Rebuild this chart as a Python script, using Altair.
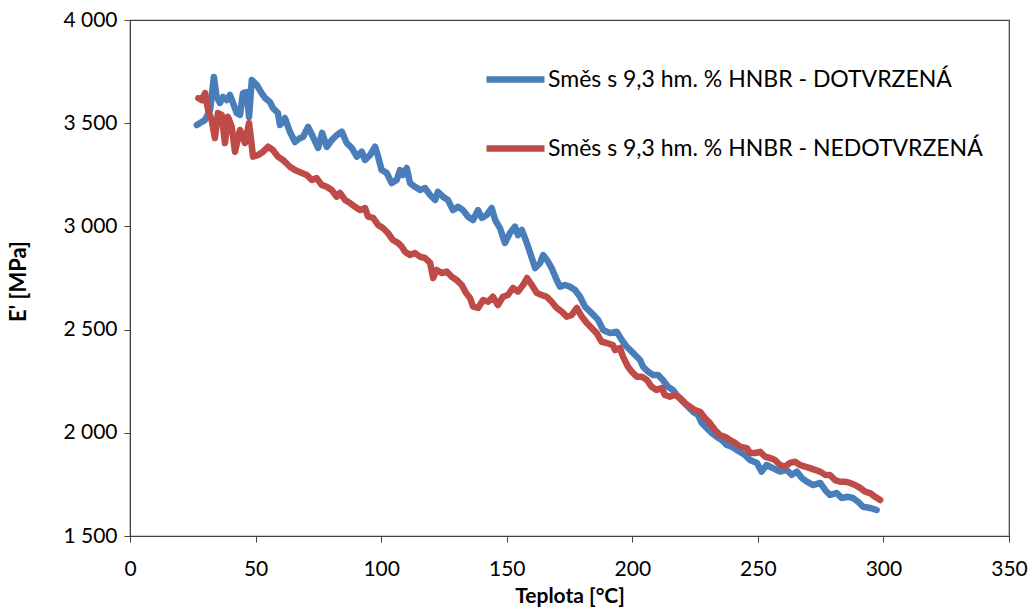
import altair as alt
import pandas as pd

SERIES = ["Směs s 9,3 hm. % HNBR - DOTVRZENÁ", "Směs s 9,3 hm. % HNBR - NEDOTVRZENÁ"]
COLORS = ["#4A7EBB", "#BE4B48"]

blue_T = [26.6, 29.9, 31.9, 33.4, 34.5, 35.8, 37.0, 38.6, 39.8, 41.0, 42.5, 43.8, 45.0, 46.5, 47.4, 48.5,
          50.5, 52.4, 53.8, 55.7, 56.9, 58.9, 59.7, 61.7, 63.7, 65.7, 67.7, 68.9, 70.9, 72.9, 74.9, 76.5,
          78.4, 80.4, 82.4, 84.3, 86.3, 88.3, 90.3, 92.3, 93.6, 95.6, 97.6, 98.8, 100.2, 102.2, 104.2,
          106.2, 107.5, 108.7, 110.2, 111.5, 113.5, 115.5, 117.5, 119.5, 121.5, 122.6, 124.6, 126.6,
          128.6, 130.6, 132.6, 134.6, 136.6, 138.6, 140.1, 142.0, 144.0, 145.4, 147.3, 149.3, 151.3,
          153.3, 154.5, 156.0, 158.0, 160.0, 161.3, 163.3, 164.5, 166.5, 167.9, 169.9, 171.2, 173.2,
          175.2, 177.2, 179.2, 181.2, 183.2, 185.2, 186.4, 188.4, 191.1, 193.8, 195.8, 197.8, 200.3,
          203.1, 204.3, 206.3, 208.3, 210.3, 212.2, 214.2, 216.2, 218.2, 220.2, 222.2, 224.2, 226.2,
          227.7, 229.6, 231.6, 233.6, 235.6, 237.6, 239.6, 241.6, 244.9, 246.9, 249.6, 251.5, 253.5,
          256.0, 258.8, 261.5, 263.5, 265.5, 267.5, 269.5, 272.0, 274.8, 276.8, 278.7, 281.4, 283.4,
          285.9, 287.9, 289.9, 291.9, 294.7, 297.3]
blue_E = [3491, 3516, 3564, 3724, 3628, 3598, 3627, 3612, 3637, 3598, 3549, 3540, 3646, 3651, 3530, 3709,
          3685, 3646, 3622, 3603, 3574, 3549, 3491, 3525, 3457, 3409, 3428, 3433, 3482, 3433, 3380, 3453,
          3385, 3419, 3443, 3459, 3404, 3380, 3338, 3362, 3322, 3346, 3386, 3338, 3273, 3259, 3210,
          3225, 3273, 3249, 3283, 3210, 3192, 3176, 3186, 3152, 3128, 3168, 3144, 3128,
          3079, 3095, 3079, 3047, 3031, 3079, 3041, 3055, 3089, 3031, 2992, 2920, 2968,
          2999, 2958, 2983, 2920, 2847, 2798, 2823, 2861, 2829, 2798, 2740, 2708, 2716,
          2708, 2692, 2659, 2611, 2587, 2563, 2547, 2498, 2483, 2490, 2450, 2417, 2387,
          2353, 2320, 2296, 2280, 2280, 2256, 2223, 2207, 2175, 2151, 2126, 2102, 2086,
          2047, 2023, 1999, 1981, 1965, 1941, 1933, 1917, 1892, 1868, 1854, 1812, 1844,
          1829, 1812, 1820, 1796, 1812, 1781, 1763, 1747, 1757, 1723, 1699, 1708, 1684,
          1690, 1684, 1666, 1642, 1636, 1626]

red_T = [27.2, 28.6, 29.9, 31.1, 32.5, 33.8, 35.0, 36.5, 37.8, 39.0, 40.5, 41.8, 43.8, 45.8, 47.4, 49.0,
         51.0, 53.0, 55.0, 56.9, 58.9, 60.9, 63.7, 65.7, 68.4, 70.4, 72.4, 74.3, 76.3, 78.3, 80.3, 82.3,
         83.6, 85.6, 87.6, 89.6, 91.6, 93.6, 94.8, 96.8, 98.8, 100.7, 102.7, 104.7, 106.7, 108.2, 109.5,
         111.5, 113.5, 115.5, 117.5, 119.5, 120.7, 122.1, 124.1, 126.1, 128.1, 130.1, 132.1, 133.8,
         135.4, 136.6, 138.6, 140.6, 142.6, 144.5, 146.5, 148.5, 150.5, 152.5, 154.5, 156.5, 158.1,
         160.0, 162.0, 163.9, 165.9, 167.9, 169.9, 171.9, 173.9, 175.9, 177.9, 179.9, 181.9, 183.8,
         185.8, 187.8, 189.8, 192.3, 193.1, 195.1, 196.3, 198.3, 199.8, 201.8, 203.8, 205.8, 207.7,
         209.7, 211.7, 213.0, 215.0, 217.0, 219.0, 221.0, 223.0, 225.0, 227.0, 228.9, 230.9, 232.9,
         234.9, 236.9, 238.9, 240.9, 242.9, 245.6, 246.9, 248.9, 250.9, 252.9, 254.9, 256.8, 258.8,
         260.8, 262.8, 264.8, 266.8, 268.8, 270.8, 272.8, 274.8, 276.8, 278.7, 280.7, 282.7, 284.7,
         286.7, 288.7, 290.7, 292.7, 294.7, 296.7, 298.7]
red_E = [3621, 3612, 3646, 3564, 3516, 3428, 3549, 3540, 3404, 3531, 3483, 3362, 3467, 3404, 3501, 3338,
         3346, 3362, 3386, 3370, 3338, 3322, 3289, 3273, 3259, 3249, 3225, 3234, 3201, 3192, 3176, 3144,
         3162, 3128, 3113, 3095, 3079, 3089, 3047, 3041, 3007, 2992, 2968, 2934, 2920, 2902, 2877,
         2861, 2871, 2853, 2847, 2823, 2750, 2789, 2774, 2781, 2756, 2740, 2716, 2677,
         2653, 2611, 2605, 2643, 2635, 2659, 2619, 2659, 2668, 2702, 2684, 2716, 2750,
         2716, 2677, 2668, 2659, 2635, 2605, 2587, 2563, 2571, 2605, 2563, 2532, 2508,
         2483, 2441, 2435, 2425, 2401, 2411, 2369, 2320, 2296, 2272, 2272, 2256, 2223,
         2207, 2217, 2183, 2175, 2183, 2169, 2144, 2126, 2110, 2102, 2072, 2047, 2014,
         1989, 1981, 1965, 1951, 1933, 1926, 1902, 1902, 1908, 1884, 1878, 1868, 1844,
         1836, 1854, 1860, 1844, 1836, 1829, 1820, 1812, 1796, 1796, 1771, 1763, 1763,
         1757, 1747, 1733, 1715, 1708, 1690, 1674]

X_TICKS = [0, 50, 100, 150, 200, 250, 300, 350]
Y_TICKS = [1500, 2000, 2500, 3000, 3500, 4000]

rows = []
for s, T, E in [(SERIES[0], blue_T, blue_E), (SERIES[1], red_T, red_E)]:
    for i, (t, e) in enumerate(zip(T, E)):
        rows.append({"T": t, "E": e, "s": s, "i": i})
df = pd.DataFrame(rows)

FONT = "Lato"
AX = "#404040"

chart = alt.Chart(df).mark_line(strokeWidth=6.5, strokeJoin="round", strokeCap="round").encode(
    x=alt.X("T:Q",
            scale=alt.Scale(domain=[0, 350], nice=False),
            axis=alt.Axis(values=X_TICKS, title="Teplota [°C]", grid=False,
                          labelFont=FONT, labelFontSize=21, labelColor="black",
                          labelPadding=16, tickSize=6, tickColor=AX, domainColor=AX,
                          titleFont=FONT, titleFontSize=21, titleFontWeight="bold",
                          titleColor="black", titlePadding=6, labelFlush=False)),
    y=alt.Y("E:Q",
            scale=alt.Scale(domain=[1500, 4000], nice=False, zero=False),
            axis=alt.Axis(values=Y_TICKS, title="E' [MPa]", grid=False,
                          labelExpr="replace(format(datum.value, ',.0f'), ',', ' ')",
                          labelFont=FONT, labelFontSize=21, labelColor="black",
                          labelPadding=7, tickSize=6, tickColor=AX, domainColor=AX,
                          titleFont=FONT, titleFontSize=22, titleFontWeight="bold",
                          titleColor="black", titleX=-112, titleY=261,
                          titleAngle=270, titleBaseline="middle", titleAlign="center",
                          labelFlush=False)),
    color=alt.Color("s:N",
                    scale=alt.Scale(domain=SERIES, range=COLORS),
                    legend=alt.Legend(orient="none", legendX=353, legendY=27, title=None,
                                      symbolType="stroke", symbolSize=3364,
                                      symbolStrokeWidth=6.5, labelFont=FONT, labelFontSize=23,
                                      labelColor="black", labelLimit=700, rowPadding=23,
                                      labelOffset=0)),
    order="i:Q",
).properties(
    width=879, height=516,
    autosize=alt.AutoSizeParams(type="none"),
    padding={"left": 130, "top": 20, "right": 24, "bottom": 78},
).configure_view(stroke=AX, strokeWidth=1.2).configure_legend(rowPadding=23)

chart.save("out.html", embed_options={"renderer": "svg", "actions": False})
